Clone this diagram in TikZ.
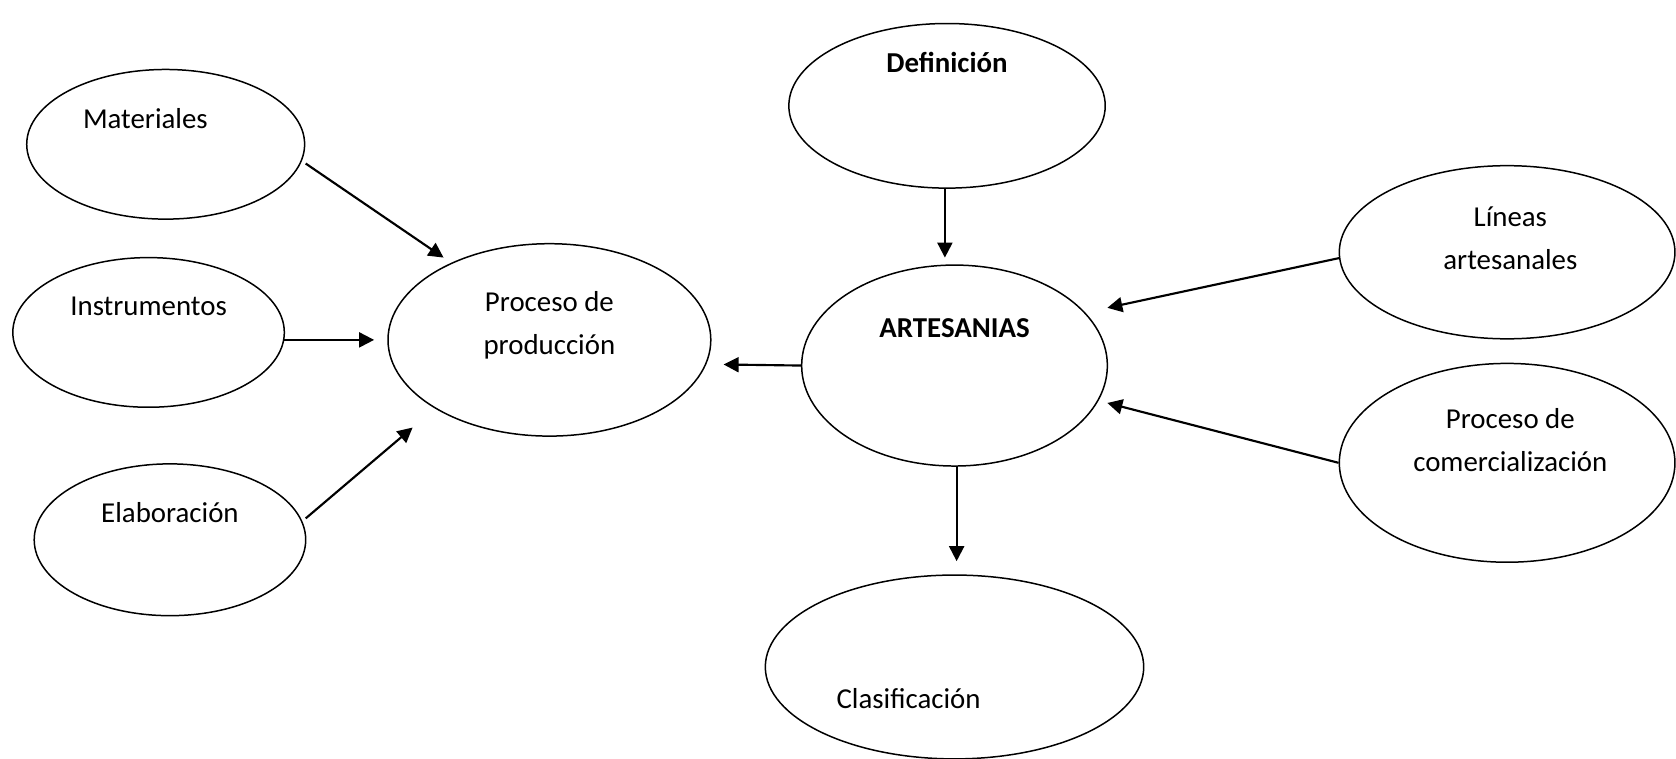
\documentclass[tikz,border=0pt]{standalone}
\usepackage{fontspec}
\setmainfont{Carlito}
\usetikzlibrary{shapes.geometric,arrows.meta}
\begin{document}
\begin{tikzpicture}[x=0.5pt,y=-0.5pt,
  ell/.style={draw,ellipse,line width=0.7pt,inner sep=0pt},
  txt/.style={font=\fontsize{13.5}{20}\selectfont,align=center,inner sep=0pt},
  arr/.style={line width=1pt,-{Triangle[length=7pt,width=7pt]}}]
\clip (0,0) rectangle (1568,710);
\fill[white] (0,0) rectangle (1568,710);
% ellipses
\node[ell,minimum width=130pt,minimum height=70pt] (mat) at (155,135) {};
\node[ell,minimum width=127pt,minimum height=70pt] (ins) at (139,311) {};
\node[ell,minimum width=127pt,minimum height=71pt] (ela) at (159,505) {};
\node[ell,minimum width=151pt,minimum height=90pt] (pdp) at (514,318) {};
\node[ell,minimum width=148pt,minimum height=77pt] (def) at (886,99) {};
\node[ell,minimum width=143pt,minimum height=94pt] (art) at (893,342) {};
\node[ell,minimum width=157pt,minimum height=81pt] (lin) at (1410,236) {};
\node[ell,minimum width=157pt,minimum height=93pt] (com) at (1410,433) {};
\node[ell,minimum width=177pt,minimum height=86pt] (cla) at (893,624) {};
% texts
\node[txt] (tmat) at (136,111) {Materiales};
\node[txt] (tins) at (139,287) {Instrumentos};
\node[txt] (tela) at (159,480) {Elaboración};
\node[txt] (tpdp) at (514,304) {Proceso de\\producción};
\node[txt,font=\fontsize{13.5}{20}\selectfont\bfseries] (tdef) at (886,58) {Definición};
\node[txt,font=\fontsize{13.5}{20}\selectfont\bfseries] (tart) at (893,307) {ARTESANIAS};
\node[txt] (tlin) at (1413,223) {Líneas\\artesanales};
\node[txt] (tcom) at (1413,412) {Proceso de\\comercialización};
\node[txt] (tcla) at (850,654) {Clasificación};
% arrow tips
\coordinate (p1) at (415,241);
\coordinate (p2) at (350,318);
\coordinate (p3) at (386,400);
\coordinate (p4) at (677,341);
\coordinate (a1) at (884,241);
\coordinate (a2) at (1036,288);
\coordinate (a3) at (1036,377);
\coordinate (c1) at (895,525);
\coordinate (s1) at (286,153);
\coordinate (s2) at (266,318);
\coordinate (s3) at (286,485);
% connectors
\draw[arr] (s1) -- (p1);
\draw[arr] (s2) -- (p2);
\draw[arr] (s3) -- (p3);
\draw[arr] (art.west) -- (p4);
\draw[arr] (def.south -| a1) -- (a1);
\draw[arr] (lin.182) -- (a2);
\draw[arr] (com.west) -- (a3);
\draw[arr] (art.south -| c1) -- (c1);
\end{tikzpicture}
\end{document}
